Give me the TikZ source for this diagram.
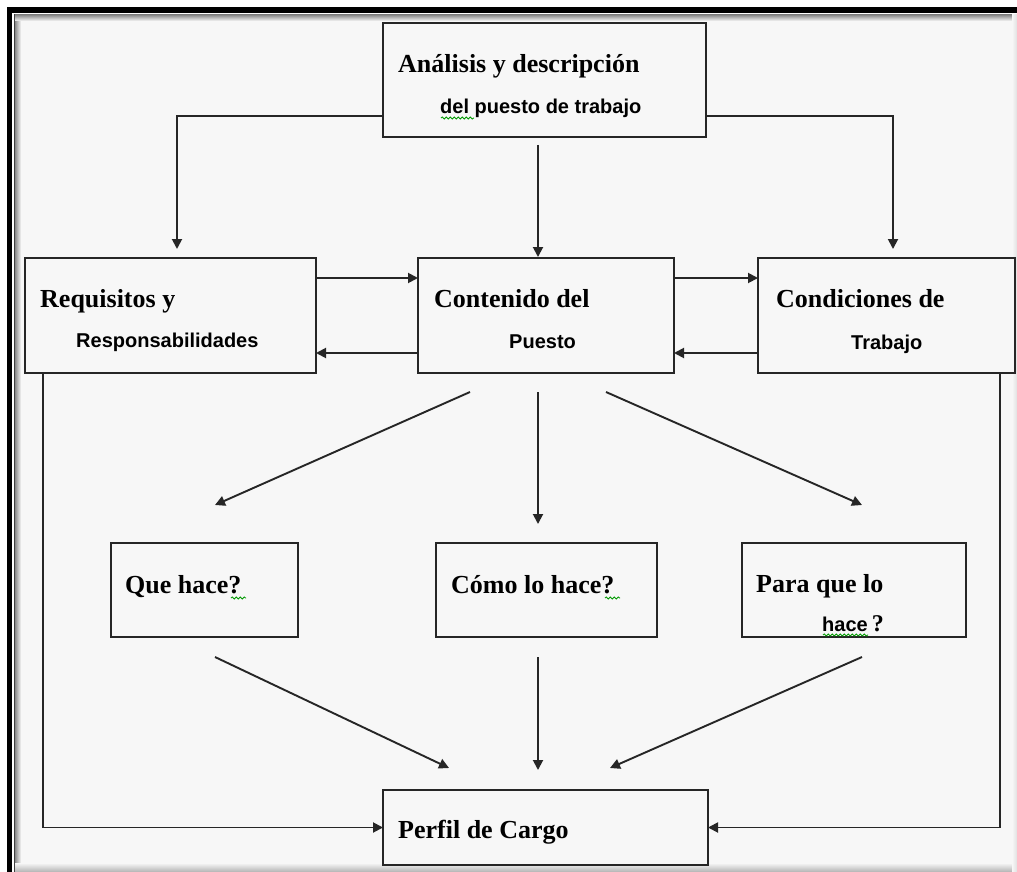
\documentclass[tikz,border=0pt]{standalone}
\usepackage{fontspec}
\setmainfont{Liberation Serif}
\newfontfamily\sansfam{Liberation Sans}
\usetikzlibrary{arrows.meta,decorations.pathmorphing}
\definecolor{bgc}{HTML}{F7F7F7}
\definecolor{linec}{HTML}{262626}
\tikzset{
  box/.style={draw=linec, line width=2.2pt, rectangle, inner sep=0pt, outer sep=0pt, fill=bgc},
  arr/.style={draw=linec, line width=1.9pt, -{Triangle[length=10pt,width=10pt]}},
  serift/.style={anchor=base west, inner sep=0pt, font=\fontsize{26}{30}\selectfont\bfseries},
  sanst/.style={anchor=base west, inner sep=0pt, font=\fontsize{20}{24}\selectfont\sansfam\bfseries},
  squig/.style={draw=green!60!black, line width=0.8pt, decorate, decoration={snake, segment length=4pt, amplitude=1.1pt}}
}
\begin{document}
\begin{tikzpicture}[x=1pt,y=-1pt]
\useasboundingbox (0,0) rectangle (1017,872);
% frame and background
\fill[white] (0,0) rectangle (1017,872);
\fill[bgc] (15,15) rectangle (1017,872);
\fill[black] (7,7) rectangle (1017,13);
\fill[black] (7,7) rectangle (12,872);
\draw[black!75, line width=1pt] (14.5,872) -- (14.5,14.5) -- (1017,14.5);
\shade[left color=black!45, right color=bgc] (15,15) rectangle (21,872);
\shade[top color=black!45, bottom color=bgc] (15,15) rectangle (1017,21);
\shade[top color=bgc, bottom color=black!30] (15,863) rectangle (1017,872);
\shade[left color=bgc, right color=black!12] (1012,15) rectangle (1017,872);

% boxes
\node[box, minimum width=323pt, minimum height=114pt] (ana) at (544.5,80) {};
\node[box, minimum width=291pt, minimum height=115pt] (req) at (170.5,315.5) {};
\node[box, minimum width=256pt, minimum height=115pt] (con) at (546,315.5) {};
\node[box, minimum width=257pt, minimum height=115pt] (cond) at (886.5,315.5) {};
\node[box, minimum width=187pt, minimum height=94pt] (que) at (204.5,590) {};
\node[box, minimum width=221pt, minimum height=94pt] (como) at (546.5,590) {};
\node[box, minimum width=224pt, minimum height=94pt] (para) at (854,590) {};
\node[box, minimum width=325pt, minimum height=75pt] (perf) at (545.5,827.5) {};

% texts
\node[serift] (t1) at (398,73) {Análisis y descripción};
\node[sanst] (t2) at (440,114) {del puesto de trabajo};
\node[serift] (t3) at (40,307) {Requisitos y};
\node[sanst] (t4) at (76,347) {Responsabilidades};
\node[serift] (t5) at (434,307) {Contenido del};
\node[sanst] (t6) at (509,348) {Puesto};
\node[serift] (t7) at (776,307) {Condiciones de};
\node[sanst] (t8) at (851,349) {Trabajo};
\node[serift] (t9) at (125,593) {Que hace?};
\node[serift] (t10) at (451,593) {Cómo lo hace?};
\node[serift] (t11) at (756,592) {Para que lo};
\node[sanst] (t12) at (822,631) {hace{\rmfamily\fontsize{24}{28}\selectfont\,?}};
\node[serift] (t13) at (398,838) {Perfil de Cargo};

% spell-check squiggles
\draw[squig] (441,118) -- (474,118);
\draw[squig] (231,598) -- (246,598);
\draw[squig] (605,598) -- (620,598);
\draw[squig] (823,635) -- (868,635);

% connectors from top box
\draw[arr, shorten >=9pt] ([yshift=21pt]ana.south west) -| ([xshift=152pt]req.north west);
\draw[arr, shorten >=9pt] ([yshift=21pt]ana.south east) -| ([xshift=-122pt]cond.north east);
\draw[arr, shorten >=1pt] ([xshift=-6.5pt,yshift=-8pt]ana.south) -- ([xshift=-8pt]con.north);

% horizontal pairs
\draw[arr] ([yshift=-20pt]req.north east) -- ([yshift=-20pt]con.north west);
\draw[arr] ([yshift=20pt]con.south west) -- ([yshift=20pt]req.south east);
\draw[arr] ([yshift=-20pt]con.north east) -- ([yshift=-20pt]cond.north west);
\draw[arr] ([yshift=20pt]cond.south west) -- ([yshift=20pt]con.south east);

% from Contenido to questions
\draw[arr] ([xshift=-76pt,yshift=-19pt]con.south) -- ([xshift=10.5pt,yshift=38pt]que.north);
\draw[arr] ([xshift=-8pt,yshift=-19pt]con.south) -- ([xshift=-8.5pt,yshift=19pt]como.north);
\draw[arr] ([xshift=60pt,yshift=-19pt]con.south) -- ([xshift=8pt,yshift=38pt]para.north);

% from questions to Perfil
\draw[arr] ([xshift=10.5pt,yshift=-20pt]que.south) -- ([xshift=-96.5pt,yshift=22pt]perf.north);
\draw[arr] ([xshift=-8.5pt,yshift=-20pt]como.south) -- ([xshift=-7.5pt,yshift=20pt]perf.north);
\draw[arr] ([xshift=8pt,yshift=-20pt]para.south) -- ([xshift=64.5pt,yshift=22pt]perf.north);

% side lines to Perfil
\draw[arr] ([xshift=18pt]req.south west) |- (perf.west);
\draw[arr] ([xshift=-15pt]cond.south east) |- (perf.east);
\end{tikzpicture}
\end{document}
